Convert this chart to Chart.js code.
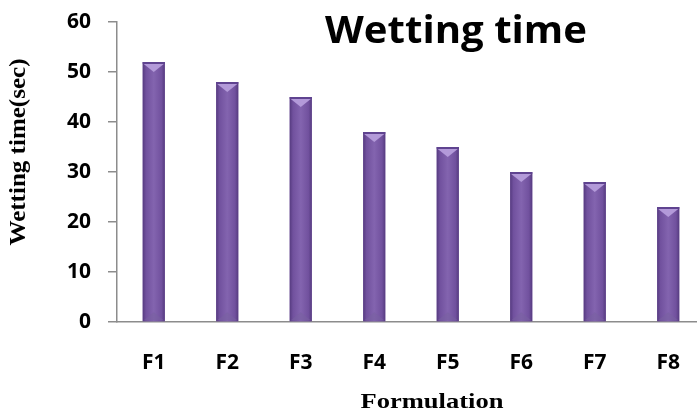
<!DOCTYPE html>
<html>
<head>
<meta charset="utf-8">
<script src="https://cdn.jsdelivr.net/npm/chart.js@4.4.1/dist/chart.umd.min.js"></script>
<style>
  html, body { margin: 0; padding: 0; background: #fff; overflow: hidden; }
  #wrap { width: 708px; height: 416px; }
</style>
</head>
<body>
<div id="wrap"><canvas id="wetting"></canvas></div>
<script>
const formulations = ['F1', 'F2', 'F3', 'F4', 'F5', 'F6', 'F7', 'F8'];
const wetting_time = [52, 48, 45, 38, 35, 30, 28, 23];
const y_ticks = [0, 10, 20, 30, 40, 50, 60];

const axis_color = "#8c8c8c";
const bar_color = "#7b58a7";
const sans = "'Open Sans', Lato, sans-serif";
const serif = "'Liberation Serif', 'DejaVu Serif', serif";

// cylinder-ish shading and bevelled tops like the office chart
const bar_shade = {
    id: 'barShade',
    afterDatasetsDraw(chart) {
        const ctx = chart.ctx;
        chart.getDatasetMeta(0).data.forEach(bar => {
            const left = bar.x - bar.width / 2;
            const right = bar.x + bar.width / 2;
            const top = bar.y;
            const bottom = bar.base;
            const g = ctx.createLinearGradient(left, 0, right, 0);
            g.addColorStop(0, '#563b80');
            g.addColorStop(0.15, '#71519e');
            g.addColorStop(0.5, '#8364af');
            g.addColorStop(0.85, '#71519e');
            g.addColorStop(1, '#563b80');
            ctx.save();
            ctx.fillStyle = g;
            ctx.fillRect(left, top, right - left, bottom - top);
            // top bevel
            const bev = Math.min(8, (right - left) / 2);
            ctx.fillStyle = '#5f4390';
            ctx.fillRect(left, top, right - left, 2);
            ctx.beginPath();
            ctx.moveTo(left + 1, top + 2);
            ctx.lineTo(right - 1, top + 2);
            ctx.lineTo(bar.x, top + 2 + bev);
            ctx.closePath();
            ctx.fillStyle = '#b39ad9';
            ctx.fill();
            // faint bottom bevel
            ctx.beginPath();
            ctx.moveTo(left + 1, bottom - 1);
            ctx.lineTo(right - 1, bottom - 1);
            ctx.lineTo(bar.x, bottom - 1 - bev);
            ctx.closePath();
            ctx.fillStyle = 'rgba(120,96,160,0.55)';
            ctx.fill();
            ctx.restore();
        });
    }
};

// draw a text squeezed/stretched to a given width
function wide_text(ctx, text, font, x, y, width, angle) {
    ctx.save();
    ctx.font = font;
    ctx.fillStyle = '#000';
    ctx.textAlign = 'center';
    ctx.textBaseline = 'alphabetic';
    const w = ctx.measureText(text).width;
    ctx.translate(x, y);
    if (angle) ctx.rotate(angle);
    ctx.scale(width / w, 1);
    ctx.fillText(text, 0, 0);
    ctx.restore();
}

// chart title, y title and x title placed like the original
const title_text = {
    id: 'titleText',
    afterDraw(chart) {
        const ctx = chart.ctx;
        const left = chart.chartArea.left;
        wide_text(ctx, 'Wetting time', "bold 37px " + sans, left + 339, 43, 262);
        wide_text(ctx, 'Wetting time(sec)', "bold 24px " + serif, 25, 152, 187, -Math.PI / 2);
        wide_text(ctx, 'Formulation', "bold 21px " + serif, left + 315, 408, 143);
    }
};

new Chart(document.getElementById('wetting'), {
    type: 'bar',
    data: {
        labels: formulations,
        datasets: [{
            data: wetting_time,
            backgroundColor: bar_color,
            barPercentage: 0.6,
            categoryPercentage: 0.5,
        }]
    },
    options: {
        responsive: true,
        maintainAspectRatio: false,
        animation: false,
        layout: { padding: { top: 22, right: 0, left: 0, bottom: 0 } },
        plugins: {
            legend: { display: false },
            tooltip: { enabled: false },
        },
        scales: {
            x: {
                grid: { display: false, drawTicks: false },
                border: { color: axis_color, width: 1.5 },
                ticks: {
                    color: '#000',
                    padding: 28,
                    font: { family: sans, size: 21, weight: 'bold' }
                },
                title: { display: false },
                afterFit(scale) { scale.height = 94; }
            },
            y: {
                min: 0,
                max: 60,
                afterBuildTicks(scale) {
                    scale.ticks = y_ticks.map(v => ({ value: v }));
                },
                grid: {
                    drawOnChartArea: false,
                    tickLength: 9,
                    color: axis_color,
                    lineWidth: 1.5
                },
                border: { color: axis_color, width: 1.5 },
                ticks: {
                    color: '#000',
                    padding: 17,
                    font: { family: sans, size: 21, weight: 'bold' }
                },
                title: { display: false },
                afterFit(scale) {
                    scale.width = 117;
                    scale.paddingTop = 0;
                    scale.paddingBottom = 0;
                }
            }
        }
    },
    plugins: [bar_shade, title_text]
});
</script>
</body>
</html>
